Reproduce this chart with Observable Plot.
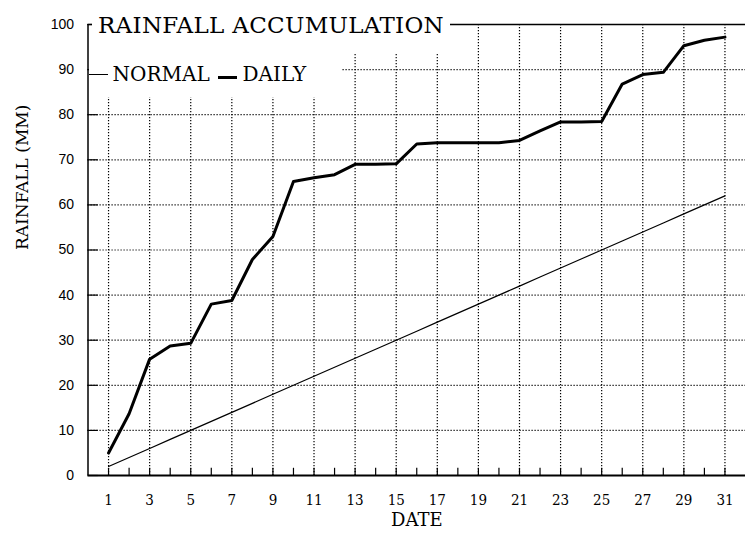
<!DOCTYPE html>
<html>
<head>
<meta charset="utf-8">
<script src="https://cdn.jsdelivr.net/npm/d3@7"></script>
<script src="https://cdn.jsdelivr.net/npm/@observablehq/plot@0.6"></script>
<style>
  body { margin: 0; background: #fff; }
  #wrap { position: relative; width: 745px; height: 536px; overflow: hidden; }
  .box { position: absolute; background: #fff; font-family: "DejaVu Serif", serif; color: #000; }
  .lbl { position: absolute; white-space: nowrap; line-height: 1; transform: translateY(-50%); }
  .sw { position: absolute; background: #000; }
</style>
</head>
<body>
<div id="wrap"></div>
<script>
// ---- data ----
const days = [1,2,3,4,5,6,7,8,9,10,11,12,13,14,15,16,17,18,19,20,21,22,23,24,25,26,27,28,29,30,31];
const dailyRain = [5.0,13.7,25.8,28.7,29.3,38.0,38.8,47.9,53.0,65.2,66.0,66.7,69.0,69.0,69.1,73.5,73.8,73.8,73.8,73.8,74.3,76.4,78.4,78.4,78.5,86.8,88.9,89.4,95.3,96.5,97.2];
const normalRain = [2,4,6,8,10,12,14,16,18,20,22,24,26,28,30,32,34,36,38,40,42,44,46,48,50,52,54,56,58,60,62];
const dateTicks = [1,3,5,7,9,11,13,15,17,19,21,23,25,27,29,31];
const rainTicks = [0,10,20,30,40,50,60,70,80,90,100];
const gridRain = [10,20,30,40,50,60,70,80,90];
const titleText = "RAINFALL ACCUMULATION";
const seriesNames = ["NORMAL", "DAILY"];
const xLabel = "DATE";
const yLabel = "RAINFALL (MM)";

const normalData = days.map((d, i) => ({day: d, value: normalRain[i]}));
const dailyData = days.map((d, i) => ({day: d, value: dailyRain[i]}));

const dots = "1.2,1.8";
const chart = Plot.plot({
  width: 745,
  height: 536,
  marginLeft: 87.5,
  marginRight: 0,
  marginTop: 24,
  marginBottom: 61,
  x: {domain: [0, 32]},
  y: {domain: [0, 100]},
  style: {background: "#fff"},
  marks: [
    Plot.ruleY(gridRain, {stroke: "#000", strokeWidth: 1.2, strokeDasharray: dots}),
    Plot.ruleX(dateTicks, {stroke: "#000", strokeWidth: 1.2, strokeDasharray: dots}),
    Plot.ruleY([100], {stroke: "#000", strokeWidth: 1.3}),
    Plot.ruleX(days, {y1: 0, y2: 1.6, stroke: "#000", strokeWidth: 1.2}),
    Plot.ruleY(rainTicks, {x1: 0, x2: 0.5, stroke: "#000", strokeWidth: 1.2}),
    Plot.line(normalData, {x: "day", y: "value", stroke: "#000", strokeWidth: 1.2}),
    Plot.line(dailyData, {x: "day", y: "value", stroke: "#000", strokeWidth: 3, strokeLinejoin: "round"}),
    Plot.ruleX([0], {stroke: "#000", strokeWidth: 1.5}),
    Plot.ruleY([0], {stroke: "#000", strokeWidth: 2}),
    Plot.axisY({ticks: rainTicks, tickSize: 0, tickPadding: 14, fontSize: 14, fontFamily: "Liberation Sans, Arial, sans-serif", label: null, tickFormat: d => String(d)}),
    Plot.axisX({ticks: dateTicks, tickSize: 0, tickPadding: 19, fontSize: 15, fontFamily: "DejaVu Serif Condensed, DejaVu Serif, serif", label: null, tickFormat: d => String(d)}),
    Plot.text([xLabel], {frameAnchor: "bottom", dy: 50, fontSize: 18, fontFamily: "DejaVu Serif, serif", fill: "#000"}),
    Plot.text([yLabel], {frameAnchor: "left", dx: -65, rotate: -90, fontSize: 17, fontFamily: "DejaVu Serif, serif", fill: "#000"})
  ]
});
const wrap = document.getElementById("wrap");
wrap.appendChild(chart);

// title box (covers gridlines behind title)
const tb = document.createElement("div");
tb.className = "box";
tb.style.cssText = "left:92px;top:0;width:358px;height:53px;";
const tt = document.createElement("div");
tt.className = "lbl";
tt.style.cssText = "left:6px;top:25px;font-size:23px;letter-spacing:0.3px;";
tt.textContent = titleText;
tb.appendChild(tt);
wrap.appendChild(tb);

// legend box
const lb = document.createElement("div");
lb.className = "box";
lb.style.cssText = "left:88.5px;top:53px;width:252px;height:44px;";
const s1 = document.createElement("div");
s1.className = "sw";
s1.style.cssText = "left:0;top:20.5px;width:19px;height:1.3px;";
lb.appendChild(s1);
const t1 = document.createElement("div");
t1.className = "lbl";
t1.style.cssText = "left:24px;top:21px;font-size:20px;";
t1.textContent = seriesNames[0];
lb.appendChild(t1);
const s2 = document.createElement("div");
s2.className = "sw";
s2.style.cssText = "left:129px;top:23px;width:19px;height:3px;";
lb.appendChild(s2);
const t2 = document.createElement("div");
t2.className = "lbl";
t2.style.cssText = "left:154px;top:21px;font-size:20px;";
t2.textContent = seriesNames[1];
lb.appendChild(t2);
wrap.appendChild(lb);
</script>
</body>
</html>
